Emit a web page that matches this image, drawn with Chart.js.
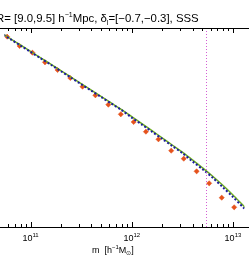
<!DOCTYPE html>
<html>
<head>
<meta charset="utf-8">
<script src="https://cdn.jsdelivr.net/npm/chart.js@4/dist/chart.umd.min.js"></script>
<style>
  html, body { margin: 0; padding: 0; background: #fff; }
  #wrap { width: 249px; height: 256px; }
</style>
</head>
<body>
<div id="wrap"><canvas id="chart" width="249" height="256"></canvas></div>
<script>
// log10 of halo mass for the measured points (orange markers)
const pointLogM = [10.769, 10.892, 11.019, 11.143, 11.267, 11.393, 11.514, 11.641, 11.769, 11.892,
  12.019, 12.14, 12.264, 12.39, 12.514, 12.641, 12.765, 12.889, 13.012];
const pointVals = [190.3, 181, 174.3, 164.7, 157, 149, 140.3, 131.7, 122.3, 112.7,
  105, 95.3, 87.7, 76.3, 68.3, 55.7, 43.7, 29.3, 19.7];

// model curves
const curveLogM = [10.7, 10.8, 10.9, 11.0, 11.1, 11.2, 11.3, 11.4, 11.5, 11.6, 11.7, 11.8, 11.9,
  12.0, 12.1, 12.2, 12.3, 12.4, 12.5, 12.6, 12.7, 12.8, 12.9, 13.0, 13.1, 13.2];
const greenVals = [194.8, 188.4, 182.0, 175.6, 169.2, 162.8, 156.3, 149.8, 143.3, 136.8, 130.3, 123.8, 117.4,
  110.4, 103.4, 96.3, 89.2, 82.0, 74.9, 67.1, 59.2, 50.8, 41.7, 32.0, 21.7, 11.5];
const blueVals = [194.3, 187.9, 181.5, 175.1, 168.7, 162.3, 155.8, 149.3, 142.8, 136.3, 129.8, 123.3, 116.9,
  109.4, 102.4, 95.3, 88.2, 81.0, 73.9, 65.6, 57.7, 49.3, 39.7, 30.0, 19.7, 9.5];

// vertical marker
const vlineLogM = 12.733;

// axis
const xMinLogM = 10.743;
const xMaxLogM = 13.114;
const decades = [10, 11, 12, 13];
const labelDecades = [11, 12, 13];

const titleParts = [
  { t: 'R= [9.0,9.5] h' }, { t: '\u22121', sup: true }, { t: 'Mpc, \u03b4' }, { t: 'l', sub: true },
  { t: '=[\u22120.7,\u22120.3], SSS' }
];
const xTitleParts = [
  { t: 'm  [h' }, { t: '\u22121', sup: true }, { t: 'M' }, { t: '\u2299', sub: true }, { t: ']' }
];

const FONT = '"Liberation Sans", Arial, sans-serif';

function drawRich(ctx, parts, x, y, size) {
  let cx = x;
  for (const p of parts) {
    const s = (p.sup || p.sub) ? Math.round(size * 0.65) : size;
    ctx.font = `${s}px ${FONT}`;
    const dy = p.sup ? -size * 0.42 : p.sub ? size * 0.25 : 0;
    ctx.fillText(p.t, cx, y + dy);
    cx += ctx.measureText(p.t).width;
  }
  return cx - x;
}

function measureRich(ctx, parts, size) {
  let w = 0;
  for (const p of parts) {
    const s = (p.sup || p.sub) ? Math.round(size * 0.65) : size;
    ctx.font = `${s}px ${FONT}`;
    w += ctx.measureText(p.t).width;
  }
  return w;
}

const framePlugin = {
  id: 'frame',
  afterDraw(chart) {
    const { ctx, chartArea: a, scales: { x } } = chart;
    ctx.save();
    ctx.fillStyle = '#000';
    ctx.strokeStyle = '#000';
    ctx.lineWidth = 1;

    // vertical dotted marker
    const vx = Math.round(x.getPixelForValue(10 ** vlineLogM)) + 0.5;
    ctx.save();
    ctx.strokeStyle = '#d45fd4';
    ctx.setLineDash([1, 2]);
    ctx.beginPath();
    ctx.moveTo(vx, a.top);
    ctx.lineTo(vx, a.bottom);
    ctx.stroke();
    ctx.restore();

    // top & bottom axis lines
    ctx.beginPath();
    ctx.moveTo(0, a.top + 0.5); ctx.lineTo(chart.width, a.top + 0.5);
    ctx.moveTo(0, a.bottom + 0.5); ctx.lineTo(chart.width, a.bottom + 0.5);
    ctx.stroke();

    // inward ticks
    ctx.beginPath();
    for (const d of decades) {
      for (let k = 1; k <= 9; k++) {
        const v = k * 10 ** d;
        if (v < 10 ** xMinLogM || v > 10 ** xMaxLogM) continue;
        const px = Math.round(x.getPixelForValue(v)) + 0.5;
        const len = k === 1 ? 5 : 3;
        ctx.moveTo(px, a.bottom); ctx.lineTo(px, a.bottom - len);
        ctx.moveTo(px, a.top); ctx.lineTo(px, a.top + len);
      }
    }
    ctx.stroke();

    // tick labels
    ctx.textBaseline = 'alphabetic';
    for (const d of labelDecades) {
      const px = x.getPixelForValue(10 ** d);
      const parts = [{ t: '10' }, { t: String(d), sup: true }];
      const w = measureRich(ctx, parts, 9);
      drawRich(ctx, parts, px - w / 2, a.bottom + 14, 9);
    }

    // axis title
    drawRich(ctx, xTitleParts, 92, 253, 9);

    // plot title
    drawRich(ctx, titleParts, -4, 22, 11.4);
    ctx.restore();
  }
};

const toXY = (ms, vs) => ms.map((m, i) => ({ x: 10 ** m, y: vs[i] }));

new Chart(document.getElementById('chart'), {
  type: 'line',
  data: {
    datasets: [
      {
        label: 'model A',
        data: toXY(curveLogM, blueVals),
        borderColor: '#1c1c9c',
        borderWidth: 2,
        borderDash: [2, 2],
        pointRadius: 0,
        tension: 0.3,
        fill: false,
      },
      {
        label: 'model B',
        data: toXY(curveLogM, greenVals),
        borderColor: '#6fae22',
        borderWidth: 1.5,
        pointRadius: 0,
        tension: 0.3,
        fill: false,
      },
      {
        label: 'measured',
        data: toXY(pointLogM, pointVals),
        showLine: false,
        pointStyle: 'rectRot',
        pointRadius: 2.6,
        pointBackgroundColor: '#e5521c',
        pointBorderColor: '#e5521c',
        pointBorderWidth: 0.5,
      },
    ],
  },
  options: {
    responsive: false,
    animation: false,
    devicePixelRatio: 1,
    layout: { padding: { top: 28, bottom: 29, left: 0, right: 0 } },
    plugins: { legend: { display: false }, tooltip: { enabled: false }, title: { display: false } },
    scales: {
      x: { type: 'logarithmic', min: 10 ** xMinLogM, max: 10 ** xMaxLogM, display: false },
      y: { type: 'linear', min: 0, max: 199, display: false },
    },
  },
  plugins: [framePlugin],
});
</script>
</body>
</html>
